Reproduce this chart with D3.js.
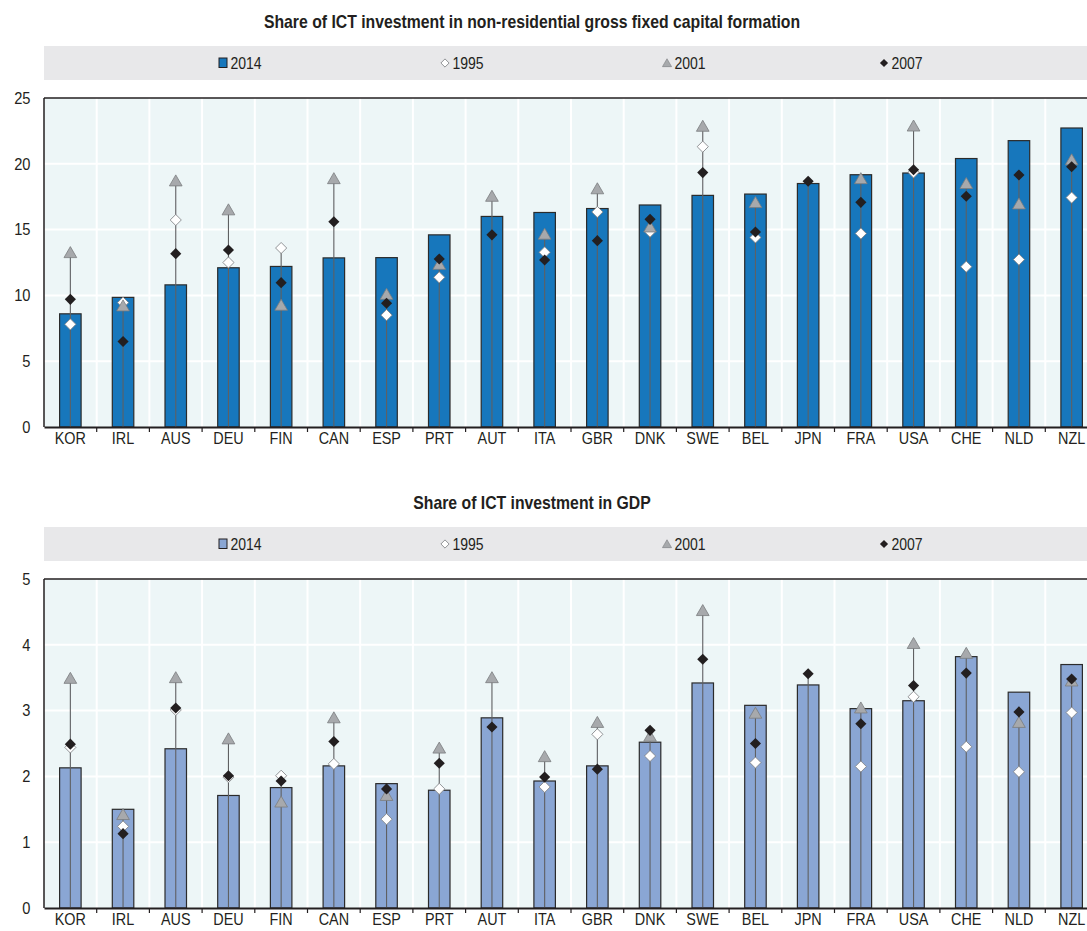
<!DOCTYPE html>
<html><head><meta charset="utf-8">
<script src="https://cdn.jsdelivr.net/npm/d3@7"></script>
<style>
body{margin:0;background:#fff;}
svg{display:block;}
text{font-family:"Liberation Sans Narrow","Arial Narrow","Liberation Sans",Arial,sans-serif;fill:#231f20;}
</style></head>
<body><svg id="c" width="1087" height="931"></svg>
<script>
const countries = ["KOR","IRL","AUS","DEU","FIN","CAN","ESP","PRT","AUT","ITA","GBR","DNK","SWE","BEL","JPN","FRA","USA","CHE","NLD","NZL"];
const seriesNames = ["2014","1995","2001","2007"];

// Panel 1: Share of ICT investment in non-residential GFCF (%)
const gfcf2014 = [8.6,9.85,10.8,12.1,12.2,12.85,12.87,14.6,16.0,16.3,16.6,16.87,17.6,17.7,18.5,19.17,19.3,20.4,21.76,22.72];
const gfcf1995 = [7.8,9.45,15.73,12.5,13.6,null,8.5,11.37,null,13.27,16.34,14.84,21.3,14.4,null,14.7,19.35,12.18,12.72,17.43];
const gfcf2001 = [13.15,9.1,18.6,16.4,9.15,18.77,9.98,12.26,17.43,14.55,18.0,15.1,22.75,16.95,null,18.77,22.77,18.4,16.85,20.2];
const gfcf2007 = [9.7,6.5,13.17,13.45,10.97,15.6,9.4,12.77,14.6,12.69,14.16,15.78,19.33,14.82,18.67,17.07,19.55,17.53,19.15,19.78];
const gfcfTicks = [0,5,10,15,20,25];

// Panel 2: Share of ICT investment in GDP (%)
const gdp2014 = [2.13,1.50,2.42,1.71,1.83,2.16,1.89,1.79,2.89,1.93,2.16,2.52,3.42,3.08,3.39,3.03,3.15,3.82,3.28,3.70];
const gdp1995 = [2.44,1.24,3.01,1.99,2.01,2.19,1.35,1.81,null,1.84,2.64,2.31,null,2.21,null,2.15,3.21,2.45,2.07,2.97];
const gdp2001 = [3.47,1.40,3.48,2.55,1.59,2.87,1.69,2.41,3.48,2.28,2.80,2.59,4.50,2.94,null,3.02,4.00,3.85,2.80,3.43];
const gdp2007 = [2.49,1.13,3.04,2.01,1.93,2.53,1.81,2.20,2.75,1.99,2.11,2.70,3.78,2.50,3.56,2.80,3.38,3.57,2.98,3.48];
const gdpTicks = [0,1,2,3,4,5];

const svg = d3.select("#c");
const X0 = 44, BAND = 52.7;
const x = d3.scaleBand().domain(countries).range([X0, X0 + BAND*countries.length]).padding(0);

const C = {
  bg:"#edf6f7", legendBg:"#e8e8ea", axis:"#231f20", line:"#5f6062",
  tri:"#a7a9ac", triStroke:"#7a7c7f", black:"#231f20", diaStroke:"#808285"
};

function drawPanel(cfg){
  const g = svg.append("g");
  const y = d3.scaleLinear().domain([0, cfg.ticks[cfg.ticks.length-1]]).range([cfg.bottom, cfg.top]);
  // title
  g.append("g").attr("transform",`translate(532,${cfg.titleY}) scale(0.877,1)`)
    .append("text").attr("text-anchor","middle")
    .style("font-weight","bold").style("font-size","18px").text(cfg.title);
  // legend band
  g.append("rect").attr("x", X0).attr("y", cfg.legTop).attr("width", 1087-X0).attr("height", 34).attr("fill", C.legendBg);
  const ly = cfg.legTop + 17;
  const legX = [223, 445, 667, 884];
  seriesNames.forEach((s,i)=>{
    const lx = legX[i];
    if(i===0){
      g.append("rect").attr("x", lx-4).attr("y", ly-5).attr("width", 8).attr("height", 9.5)
        .attr("fill", cfg.barColor).attr("stroke","#231f20").attr("stroke-width",1);
    } else if(i===1){
      g.append("path").attr("d", d3.symbol(d3.symbolSquare, 34)()).attr("transform",`translate(${lx},${ly}) rotate(45)`)
        .attr("fill","#fff").attr("stroke",C.diaStroke).attr("stroke-width",0.8);
    } else if(i===2){
      g.append("path").attr("d", d3.symbol(d3.symbolTriangle, 36)()).attr("transform",`translate(${lx},${ly+1})`)
        .attr("fill",C.tri).attr("stroke",C.triStroke).attr("stroke-width",0.6);
    } else {
      g.append("path").attr("d", d3.symbol(d3.symbolSquare, 34)()).attr("transform",`translate(${lx},${ly}) rotate(45)`)
        .attr("fill",C.black);
    }
    g.append("g").attr("transform",`translate(${lx+7.5},${ly+5.5}) scale(0.86,1)`)
      .append("text").style("font-size","16.3px").text(s);
  });
  // plot background
  const right = X0 + BAND*countries.length;
  g.append("rect").attr("x", X0).attr("y", cfg.top).attr("width", right-X0).attr("height", cfg.bottom-cfg.top).attr("fill", C.bg);
  // grid
  g.append("g").selectAll("line").data(cfg.ticks.slice(1,-1)).join("line")
    .attr("x1",X0).attr("x2",right).attr("y1",d=>y(d)).attr("y2",d=>y(d)).attr("stroke","#fff").attr("stroke-width",2);
  g.append("g").selectAll("line").data(countries.slice(1)).join("line")
    .attr("x1",d=>x(d)).attr("x2",d=>x(d)).attr("y1",cfg.top).attr("y2",cfg.bottom).attr("stroke","#fff").attr("stroke-width",2);
  // bars
  const bw = 21.5;
  g.append("g").selectAll("rect").data(countries).join("rect")
    .attr("x", d=>x(d)+x.bandwidth()/2-bw/2).attr("width", bw)
    .attr("y", (d,i)=>y(cfg.v2014[i])).attr("height",(d,i)=>y(0)-y(cfg.v2014[i]))
    .attr("fill", cfg.barColor).attr("stroke","#2b2b2b").attr("stroke-width",1.2);
  // vertical lines from 0 to max of markers
  g.append("g").selectAll("line").data(countries).join("line")
    .attr("x1",d=>x(d)+x.bandwidth()/2).attr("x2",d=>x(d)+x.bandwidth()/2)
    .attr("y1", y(0))
    .attr("y2",(d,i)=>y(d3.max([cfg.v1995[i],cfg.v2001[i],cfg.v2007[i]].filter(v=>v!=null))))
    .attr("stroke",C.line).attr("stroke-width",1.1);
  const cx = d => x(d)+x.bandwidth()/2;
  // 1995 white diamonds
  g.append("g").selectAll("path").data(countries.map((c,i)=>({c,v:cfg.v1995[i]})).filter(d=>d.v!=null)).join("path")
    .attr("d", d3.symbol(d3.symbolSquare, 62)())
    .attr("transform", d=>`translate(${cx(d.c)},${y(d.v)}) rotate(45)`)
    .attr("fill","#fff").attr("stroke",C.diaStroke).attr("stroke-width",0.8);
  // 2001 triangles
  g.append("g").selectAll("path").data(countries.map((c,i)=>({c,v:cfg.v2001[i]})).filter(d=>d.v!=null)).join("path")
    .attr("d", d3.symbol(d3.symbolTriangle, 70)())
    .attr("transform", d=>`translate(${cx(d.c)},${y(d.v)})`)
    .attr("fill",C.tri).attr("stroke",C.triStroke).attr("stroke-width",0.8);
  // 2007 black diamonds
  g.append("g").selectAll("path").data(countries.map((c,i)=>({c,v:cfg.v2007[i]})).filter(d=>d.v!=null)).join("path")
    .attr("d", d3.symbol(d3.symbolSquare, 62)())
    .attr("transform", d=>`translate(${cx(d.c)},${y(d.v)}) rotate(45)`)
    .attr("fill",C.black);
  // frame: top, left
  g.append("line").attr("x1",X0).attr("x2",right).attr("y1",cfg.top).attr("y2",cfg.top).attr("stroke",C.axis).attr("stroke-width",1.5);
  g.append("line").attr("x1",X0).attr("x2",X0).attr("y1",cfg.top).attr("y2",cfg.bottom).attr("stroke",C.axis).attr("stroke-width",1.5);
  // x axis
  const xa = g.append("g").attr("transform",`translate(0,${cfg.bottom})`)
    .call(d3.axisBottom(x).tickSize(0).tickPadding(6));
  xa.select(".domain").attr("stroke",C.axis).attr("stroke-width",2);
  xa.selectAll("text").style("font-size","16px").style("font-family",null).attr("fill","#231f20")
    .attr("transform",`scale(0.9,1)`);
  // boundary ticks
  g.append("g").selectAll("line").data(countries.slice(1)).join("line")
    .attr("x1",d=>x(d)).attr("x2",d=>x(d)).attr("y1",cfg.bottom).attr("y2",cfg.bottom+5).attr("stroke",C.axis).attr("stroke-width",1.2);
  // y axis labels
  const ya = g.append("g").attr("transform",`translate(${X0},0)`)
    .call(d3.axisLeft(y).tickValues(cfg.ticks).tickFormat(d3.format("d")).tickSize(0).tickPadding(15));
  ya.select(".domain").remove();
  ya.selectAll("text").style("font-size","16.3px").style("font-family",null).attr("fill","#231f20")
    .attr("transform",`scale(0.9,1)`);
}

drawPanel({title:"Share of ICT investment in non-residential gross fixed capital formation",
  titleY:28, legTop:46, top:98, bottom:427, ticks:gfcfTicks, barColor:"#1777bc",
  v2014:gfcf2014, v1995:gfcf1995, v2001:gfcf2001, v2007:gfcf2007});
drawPanel({title:"Share of ICT investment in GDP",
  titleY:509, legTop:527, top:579, bottom:908, ticks:gdpTicks, barColor:"#8aa6d4",
  v2014:gdp2014, v1995:gdp1995, v2001:gdp2001, v2007:gdp2007});
</script></body></html>
